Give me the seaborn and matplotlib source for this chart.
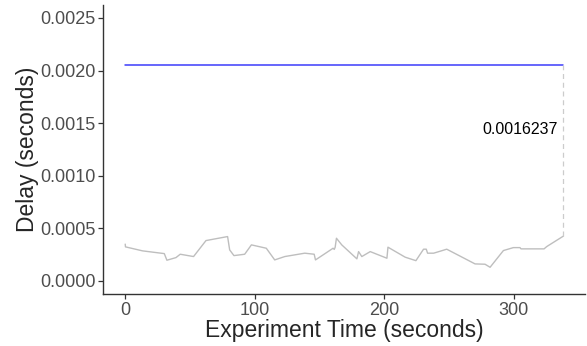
import numpy as np
import pandas as pd
import matplotlib
matplotlib.use('Agg')
import matplotlib.pyplot as plt
import seaborn as sns

# gray series: observed delay over the experiment
time_s = [0, 0.2, 13.4, 30.2, 32.2, 39.2, 42.5, 52.8, 62.4, 79.1, 80.7, 84.0,
          92.3, 97.5, 109.0, 115.5, 123.3, 138.7, 146.0, 147.0, 152.9, 160.6,
          161.5, 162.2, 163.2, 167.3, 179.0, 180.3, 182.8, 189.3, 202.2, 203.0,
          216.3, 224.6, 230.5, 232.6, 233.6, 238.3, 244.2, 248.4, 270.3, 278.0,
          281.9, 292.2, 299.9, 305.0, 305.8, 323.6, 325.7, 338.5]
delay_s = [0.000350, 0.000324, 0.000286, 0.000260, 0.000197, 0.000222, 0.000254,
           0.000232, 0.000384, 0.000422, 0.000295, 0.000241, 0.000254, 0.000343,
           0.000311, 0.000200, 0.000232, 0.000264, 0.000254, 0.000200, 0.000248,
           0.000311, 0.000300, 0.000320, 0.000406, 0.000343, 0.000210, 0.000279,
           0.000232, 0.000279, 0.000216, 0.000321, 0.000226, 0.000193, 0.000302,
           0.000302, 0.000264, 0.000264, 0.000286, 0.000302, 0.000162, 0.000159,
           0.000130, 0.000289, 0.000317, 0.000317, 0.000305, 0.000305, 0.000327,
           0.000426]

# blue reference level
ref_time = [0, 338.5]
ref_delay = [0.00205, 0.00205]
gap_label = '0.0016237'

y_ticks = [0.0, 0.0005, 0.0010, 0.0015, 0.0020, 0.0025]
x_ticks = [0, 100, 200, 300]

df = pd.DataFrame({'time': time_s, 'delay': delay_s})
ref = pd.DataFrame({'time': ref_time, 'delay': ref_delay})

sns.set_style('ticks')
plt.rcParams['font.family'] = ['Liberation Sans', 'DejaVu Sans']

fig = plt.figure(figsize=(5.87, 3.46), dpi=100)
ax = fig.add_axes([0.176, 0.150, 0.821, 0.836])

sns.lineplot(data=df, x='time', y='delay', color='#BEBEBE', linewidth=1.0,
             ax=ax, estimator=None, sort=False)
sns.lineplot(data=ref, x='time', y='delay', color='#3C3CFA', linewidth=1.1,
             ax=ax, estimator=None, sort=False)

# dashed gap marker at the end
x_end = time_s[-1]
ax.plot([x_end, x_end], [delay_s[-1], ref_delay[-1]], color='#CCCCCC',
        linestyle=(0, (4, 3)), linewidth=0.9)
ax.text(x_end - 4, 0.00144, gap_label, ha='right', va='center',
        fontsize=11.5, color='black')

span = x_end - 0
ax.set_xlim(-0.05 * span, x_end + 0.05 * span)
ax.set_ylim(-0.000125, 0.002625)
ax.set_xticks(x_ticks)
ax.set_yticks(y_ticks)
ax.set_yticklabels([f'{v:.4f}' for v in y_ticks])

ax.set_xlabel('Experiment Time (seconds)', fontsize=16.5, labelpad=0)
ax.set_ylabel('Delay (seconds)', fontsize=16.5, labelpad=1)
ax.tick_params(axis='both', labelsize=13, colors='#4D4D4D', length=3.5,
               width=0.9, pad=2)
ax.tick_params(axis='both', color='#333333')

sns.despine(ax=ax)
for side in ['left', 'bottom']:
    ax.spines[side].set_color('#333333')
    ax.spines[side].set_linewidth(1.0)

fig.savefig('out.png', dpi=100)
